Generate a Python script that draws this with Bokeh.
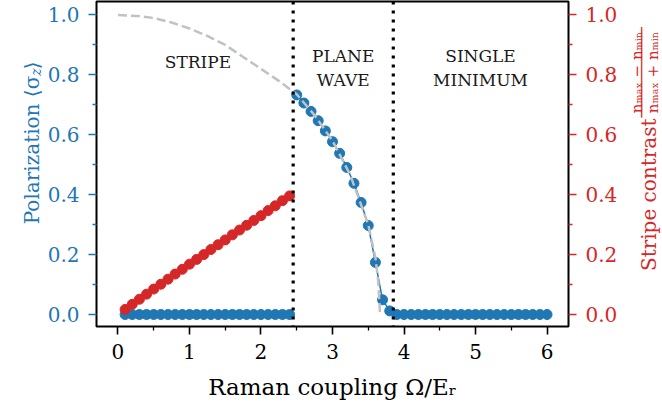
import math
from bokeh.plotting import figure
from bokeh.layouts import row
from bokeh.models import Range1d, LinearAxis, FixedTicker, PrintfTickFormatter, Span, Label
from bokeh.core.properties import value
from bokeh.embed import file_html
from bokeh.resources import INLINE

# ---------------- data ----------------
omega_stripe = [0.1, 0.2, 0.3, 0.4, 0.5, 0.6, 0.7, 0.8, 0.9, 1.0, 1.1, 1.2,
                1.3, 1.4, 1.5, 1.6, 1.7, 1.8, 1.9, 2.0, 2.1, 2.2, 2.3, 2.4]
pol_stripe = [0.0, 0.0, 0.0, 0.0, 0.0, 0.0, 0.0, 0.0, 0.0, 0.0, 0.0, 0.0,
              0.0, 0.0, 0.0, 0.0, 0.0, 0.0, 0.0, 0.0, 0.0, 0.0, 0.0, 0.0]
contrast_stripe = [0.017, 0.034, 0.051, 0.068, 0.085, 0.101, 0.118, 0.135,
                   0.151, 0.168, 0.184, 0.200, 0.217, 0.233, 0.249, 0.266,
                   0.282, 0.298, 0.314, 0.330, 0.347, 0.363, 0.380, 0.396]

omega_plane = [2.5, 2.6, 2.7, 2.8, 2.9, 3.0, 3.1, 3.2, 3.3, 3.4, 3.5, 3.6, 3.7, 3.8]
pol_plane = [0.733, 0.706, 0.678, 0.647, 0.613, 0.577, 0.538, 0.491, 0.438,
             0.374, 0.297, 0.174, 0.049, 0.012]

omega_single = [3.9, 4.0, 4.1, 4.2, 4.3, 4.4, 4.5, 4.6, 4.7, 4.8, 4.9, 5.0,
                5.1, 5.2, 5.3, 5.4, 5.5, 5.6, 5.7, 5.8, 5.9, 6.0]
pol_single = [0.0, 0.0, 0.0, 0.0, 0.0, 0.0, 0.0, 0.0, 0.0, 0.0, 0.0,
              0.0, 0.0, 0.0, 0.0, 0.0, 0.0, 0.0, 0.0, 0.0, 0.0, 0.0]

omega_theory = [0.0, 0.25, 0.5, 0.75, 1.0, 1.25, 1.5, 1.75, 2.0, 2.25, 2.5,
                2.75, 3.0, 3.25, 3.5, 3.6, 3.64, 3.665]
pol_theory = [1.0, 0.997, 0.99, 0.975, 0.955, 0.93, 0.90, 0.86, 0.82, 0.78,
              0.735, 0.665, 0.58, 0.465, 0.30, 0.19, 0.11, 0.0]

phase_boundaries = [2.45, 3.85]

x_ticks = [0, 1, 2, 3, 4, 5, 6]
x_minor = [0.5, 1.5, 2.5, 3.5, 4.5, 5.5]
y_ticks = [0.0, 0.2, 0.4, 0.6, 0.8, 1.0]
y_minor = [0.1, 0.3, 0.5, 0.7, 0.9]

# ---------------- style / layout ----------------
BLUE = "#1f77b4"
RED = "#d62728"
FONT = "DejaVu Serif"
W, H = 662, 403
LEFT_W = 42          # strip holding the left axis title
RIGHT_X = 625        # canvas x where the right title strip starts
FL, FR, FT, FB = 96, 568, 1, 326   # frame edges in canvas pixels
X0, X1 = -0.3, 6.3
Y0, Y1 = -0.04, 1.045


def dx(px):
    return X0 + (px - FL) / (FR - FL) * (X1 - X0)


def dy(py):
    return Y1 - (py - FT) / (FB - FT) * (Y1 - Y0)


p = figure(width=RIGHT_X - LEFT_W, height=H, output_backend="svg", toolbar_location=None,
           x_range=Range1d(X0, X1), y_range=Range1d(Y0, Y1),
           min_border_left=FL - LEFT_W, min_border_right=RIGHT_X - FR,
           min_border_top=FT, min_border_bottom=H - FB)
p.background_fill_color = "white"
p.border_fill_color = "white"
p.outline_line_color = "black"
p.outline_line_width = 2
p.outline_line_alpha = 1.0
p.xgrid.visible = False
p.ygrid.visible = False

p.extra_y_ranges = {"right": Range1d(Y0, Y1)}


def style_axis(ax, color):
    ax.axis_line_color = None
    ax.major_tick_out = 8
    ax.major_tick_in = 0
    ax.minor_tick_out = 4
    ax.minor_tick_in = 0
    ax.major_tick_line_color = color
    ax.minor_tick_line_color = color
    ax.major_tick_line_width = 1.6
    ax.minor_tick_line_width = 1.3
    ax.major_label_text_color = color
    ax.major_label_text_font = FONT
    ax.major_label_text_font_size = "20px"


xa = p.xaxis[0]
xa.ticker = FixedTicker(ticks=x_ticks, minor_ticks=x_minor)
style_axis(xa, "black")
xa.major_label_standoff = 9
xa.axis_label = "Raman coupling Ω/Eᵣ"
xa.axis_label_text_font = FONT
xa.axis_label_text_font_size = "23px"
xa.axis_label_text_font_style = "normal"
xa.axis_label_text_color = "black"
xa.axis_label_standoff = 12

ya = p.yaxis[0]
ya.ticker = FixedTicker(ticks=y_ticks, minor_ticks=y_minor)
ya.formatter = PrintfTickFormatter(format="%.1f")
style_axis(ya, BLUE)
ya.major_label_standoff = 9
ya.axis_label = None

ra = LinearAxis(y_range_name="right")
ra.ticker = FixedTicker(ticks=y_ticks, minor_ticks=y_minor)
ra.formatter = PrintfTickFormatter(format="%.1f")
style_axis(ra, RED)
ra.major_label_standoff = 9
ra.axis_label = None
p.add_layout(ra, "right")

# phase boundaries
for b in phase_boundaries:
    p.add_layout(Span(location=b, dimension="height", line_color="black",
                      line_width=3.2, line_dash="3 6"))

# data series
p.line(omega_stripe, pol_stripe, line_color=BLUE, line_width=1.5)
p.scatter(omega_stripe, pol_stripe, size=10, color=BLUE)
p.line(omega_plane, pol_plane, line_color=BLUE, line_width=1.5)
p.scatter(omega_plane, pol_plane, size=10, color=BLUE)
p.line(omega_single, pol_single, line_color=BLUE, line_width=1.5)
p.scatter(omega_single, pol_single, size=10, color=BLUE)

p.line(omega_stripe, contrast_stripe, line_color=RED, line_width=1.5,
       y_range_name="right")
p.scatter(omega_stripe, contrast_stripe, size=10, color=RED, y_range_name="right")

p.line(omega_theory, pol_theory, line_color="#c2c2c2", line_width=2.5,
       line_dash="9 4")

# phase labels
for txt, px, py in [("STRIPE", 197.5, 61.7), ("PLANE", 342.7, 55), ("WAVE", 342.7, 79.5),
                    ("SINGLE", 480, 55), ("MINIMUM", 480, 79.5)]:
    p.add_layout(Label(x=dx(px), y=dy(py), text=txt, text_align="center",
                       text_baseline="middle", text_font=FONT,
                       text_font_size="17px", text_color="#1a1a1a"))


# ---------------- side strips carrying the rotated axis titles ----------------
def strip(x_start, x_end):
    s = figure(width=x_end - x_start, height=H, output_backend="svg", toolbar_location=None,
               x_range=Range1d(x_start, x_end), y_range=Range1d(0, H),
               x_axis_type=None, y_axis_type=None, min_border=0)
    s.outline_line_color = None
    s.background_fill_color = "white"
    s.border_fill_color = "white"
    s.xgrid.visible = False
    s.ygrid.visible = False
    return s


HALF_PI = math.pi / 2


def piece(s, px, py, txt, size, color, align, baseline="alphabetic",
          font=FONT, style="normal"):
    # (px, py): anchor in canvas pixels from top-left; text reads bottom-to-top,
    # align "left" = anchored at its start (bottom), "right" = at its end (top)
    s.text(x=[px], y=[H - py], text=[txt], angle=HALF_PI, text_align=align,
           text_baseline=baseline, text_font=value(font), text_font_size=value(size),
           text_font_style=style, text_color=color)


left = strip(0, LEFT_W)
JOIN = 92  # where "Polarization ⟨σ" ends and the subscript starts
piece(left, 31, JOIN, "Polarization ⟨σ", "20px", BLUE, align="right")
piece(left, 35, JOIN, "z", "14px", BLUE, align="left", style="italic")
piece(left, 31, JOIN - 8, "⟩", "20px", BLUE, align="left")

right = strip(RIGHT_X, W)
piece(right, 648, 145, "Stripe contrast", "20px", RED, align="right")
piece(right, 636, 88, "nₘₐₓ − nₘᵢₙ", "15px", RED, align="center")
piece(right, 641, 88, "─" * 10, "15px", RED, align="center", baseline="middle",
      font="DejaVu Sans")
piece(right, 652, 88, "nₘₐₓ + nₘᵢₙ", "15px", RED, align="center")

layout = row(left, p, right)
open("out.html", "w").write(file_html(layout, INLINE))
